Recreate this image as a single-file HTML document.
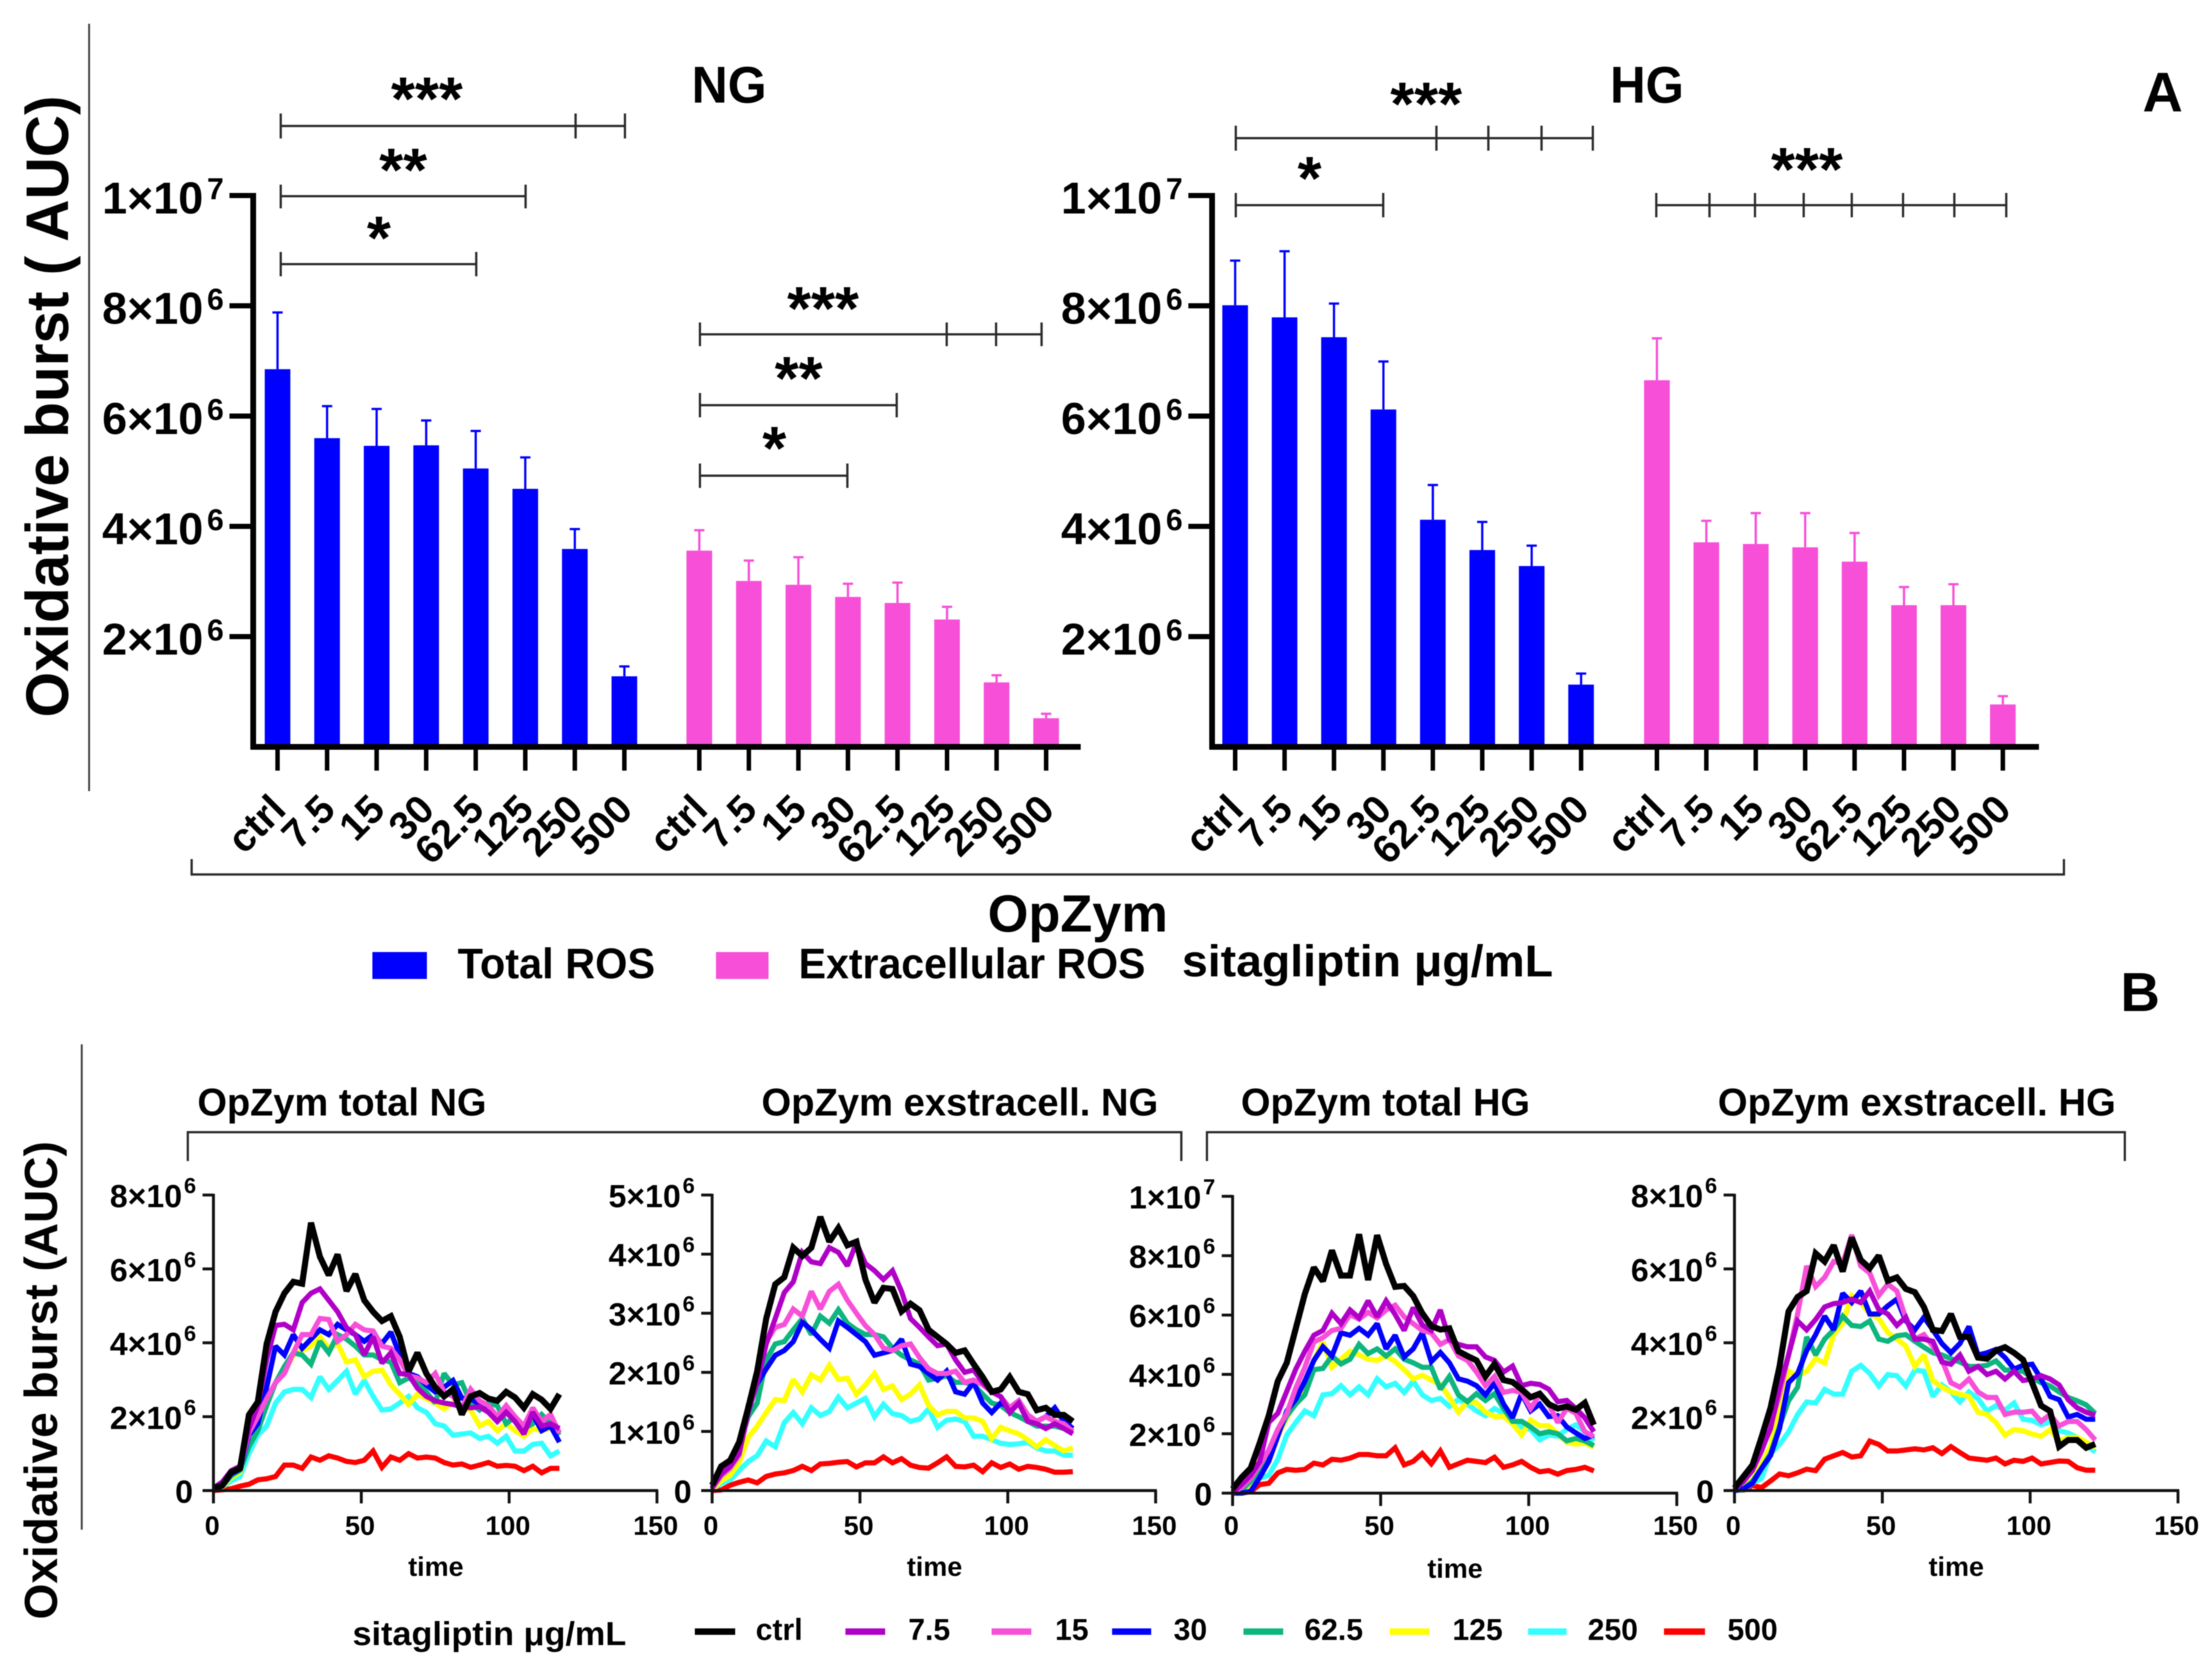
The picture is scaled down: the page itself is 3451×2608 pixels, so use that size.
<!DOCTYPE html>
<html lang="en">
<head>
<meta charset="utf-8">
<title>Oxidative burst chart</title>
<style>
html,body{margin:0;padding:0;background:#fff;}
svg{display:block;filter:blur(0.8px);}
text{font-family:"Liberation Sans","Noto Sans CJK SC",sans-serif;font-weight:bold;fill:#000;}
.br{fill:none;stroke:#2a2a2a;stroke-width:3.5;}
.star{font-size:96px;text-anchor:middle;}
</style>
</head>
<body>
<svg id="fig" xmlns="http://www.w3.org/2000/svg" width="3451" height="2608" viewBox="0 0 3451 2608">
<rect width="3451" height="2608" fill="#fff"/>

<line x1="139" y1="37" x2="139" y2="1234" stroke="#444" stroke-width="3"/>
<line x1="127.5" y1="1629" x2="127.5" y2="2386" stroke="#444" stroke-width="3"/>

<text transform="translate(106,634) rotate(-90)" text-anchor="middle" font-size="94" textLength="970" lengthAdjust="spacingAndGlyphs">Oxidative burst ( AUC)</text>
<text x="1079" y="160" font-size="81" textLength="117" lengthAdjust="spacingAndGlyphs">NG</text>
<text x="2512" y="160" font-size="81" textLength="115" lengthAdjust="spacingAndGlyphs">HG</text>
<text x="3374" y="174" font-size="87" text-anchor="middle">A</text>
<text x="3339" y="1577" font-size="85" text-anchor="middle">B</text>

<path class="br" d="M438 177V216M438 196.5H975M898 177V216M975 177V216"/>
<path class="br" d="M438 288V325M438 306H820M820 288V325"/>
<path class="br" d="M438 393V431M438 412H743M743 393V431"/>
<path class="br" d="M1092 503V540M1092 521.5H1625M1477 503V540M1554 503V540M1625 503V540"/>
<path class="br" d="M1092 613V651M1092 632H1399M1399 613V651"/>
<path class="br" d="M1092 723V761M1092 742H1322M1322 723V761"/>
<path class="br" d="M1928 196V235M1928 215.5H2485M2241 196V235M2322 196V235M2405 196V235M2485 196V235"/>
<path class="br" d="M1928 301V339M1928 320H2158M2158 301V339"/>
<path class="br" d="M2584 301V339M2584 320H3130M2667 301V339M2738 301V339M2814 301V339M2889 301V339M2969 301V339M3049 301V339M3130 301V339"/>

<text class="star" x="666" y="187">***</text>
<text class="star" x="629" y="298">**</text>
<text class="star" x="591" y="404">*</text>
<text class="star" x="1284" y="514">***</text>
<text class="star" x="1246" y="623">**</text>
<text class="star" x="1208" y="732">*</text>
<text class="star" x="2225" y="195">***</text>
<text class="star" x="2043" y="311">*</text>
<text class="star" x="2819" y="297">***</text>

<path class="br" d="M299 1340V1364H3220V1340"/>
<text x="1541" y="1453" font-size="82" textLength="281" lengthAdjust="spacingAndGlyphs">OpZym</text>
<rect x="581" y="1485" width="85" height="42" fill="#0000ff"/>
<text x="714" y="1526" font-size="67" textLength="308" lengthAdjust="spacingAndGlyphs">Total ROS</text>
<rect x="1117" y="1485" width="82" height="42" fill="#f74fd8"/>
<text x="1246" y="1526" font-size="67" textLength="541" lengthAdjust="spacingAndGlyphs">Extracellular ROS</text>
<text x="1844" y="1523" font-size="70" textLength="579" lengthAdjust="spacingAndGlyphs">sitagliptin μg/mL</text>

<text transform="translate(89,2153) rotate(-90)" text-anchor="middle" font-size="72" textLength="746" lengthAdjust="spacingAndGlyphs">Oxidative burst (AUC)</text>
<text x="308" y="1740" font-size="60" textLength="451" lengthAdjust="spacingAndGlyphs">OpZym total NG</text>
<text x="1188" y="1740" font-size="60" textLength="619" lengthAdjust="spacingAndGlyphs">OpZym exstracell. NG</text>
<text x="1936" y="1740" font-size="60" textLength="451" lengthAdjust="spacingAndGlyphs">OpZym total HG</text>
<text x="2680" y="1740" font-size="60" textLength="621" lengthAdjust="spacingAndGlyphs">OpZym exstracell. HG</text>
<path class="br" d="M293 1811V1766H1843V1811"/>
<path class="br" d="M1883 1811V1766H3315V1811"/>

<text x="550" y="2566" font-size="52" textLength="427" lengthAdjust="spacingAndGlyphs">sitagliptin μg/mL</text>
<g font-size="47" stroke-width="10">
<line x1="1084" x2="1147" y1="2545" y2="2545" stroke="#000"/>
<text x="1179" y="2558">ctrl</text>
<line x1="1319" x2="1381" y1="2545" y2="2545" stroke="#b000c8"/>
<text x="1417" y="2558">7.5</text>
<line x1="1547" x2="1609" y1="2545" y2="2545" stroke="#f74fd8"/>
<text x="1646" y="2558">15</text>
<line x1="1735" x2="1796" y1="2545" y2="2545" stroke="#0000ff"/>
<text x="1831" y="2558">30</text>
<line x1="1940" x2="2002" y1="2545" y2="2545" stroke="#0db57f"/>
<text x="2035" y="2558">62.5</text>
<line x1="2168" x2="2230" y1="2545" y2="2545" stroke="#ffff00"/>
<text x="2266" y="2558">125</text>
<line x1="2384" x2="2444" y1="2545" y2="2545" stroke="#33ffff"/>
<text x="2477" y="2558">250</text>
<line x1="2596" x2="2660" y1="2545" y2="2545" stroke="#ff0000"/>
<text x="2695" y="2558">500</text>
</g>
</svg>

<script>
// ---------- Bar chart data (values in millions) ----------
const barCategories = ['ctrl','7.5','15','30','62.5','125','250','500'];
const barTickValues = [2,4,6,8,10];
const barTickLabels = ['2×10','4×10','6×10','8×10','1×10'];
const barTickExponents = ['6','6','6','6','7'];

const ngTotalMeans = [6.85,5.60,5.46,5.47,5.05,4.68,3.59,1.28];
const ngTotalUpper = [7.88,6.18,6.13,5.92,5.73,5.25,3.95,1.46];
const ngExtraMeans = [3.56,3.01,2.94,2.72,2.61,2.31,1.17,0.52];
const ngExtraUpper = [3.93,3.38,3.44,2.96,2.98,2.54,1.30,0.60];
const hgTotalMeans = [8.01,7.79,7.43,6.12,4.12,3.57,3.28,1.13];
const hgTotalUpper = [8.82,8.99,8.04,6.99,4.75,4.08,3.65,1.33];
const hgExtraMeans = [6.65,3.71,3.68,3.62,3.36,2.57,2.57,0.77];
const hgExtraUpper = [7.41,4.10,4.24,4.24,3.88,2.90,2.95,0.92];

// ---------- Time-course data (values in millions, one sample per step) ----------
const timeTicks = [0,50,100,150];
const seriesNames = ['500','250','125','62.5','30','15','7.5','ctrl'];
const seriesColors = ['#ff0000','#33ffff','#ffff00','#0db57f','#0000ff','#f74fd8','#b000c8','#000000'];

const ngTotalTickValues = [0,2,4,6,8];
const ngTotalTickLabels = ['0','2×10','4×10','6×10','8×10'];
const ngTotalTickExponents = ['','6','6','6','6'];
const ngExtraTickValues = [0,1,2,3,4,5];
const ngExtraTickLabels = ['0','1×10','2×10','3×10','4×10','5×10'];
const ngExtraTickExponents = ['','6','6','6','6','6'];
const hgTotalTickValues = [0,2,4,6,8,10];
const hgTotalTickLabels = ['0','2×10','4×10','6×10','8×10','1×10'];
const hgTotalTickExponents = ['','6','6','6','6','7'];
const hgExtraTickValues = [0,2,4,6,8];
const hgExtraTickLabels = ['0','2×10','4×10','6×10','8×10'];
const hgExtraTickExponents = ['','6','6','6','6'];

const ntCtrl = [.07,.14,.5,.6,2.05,2.4,3.97,4.84,5.34,5.65,5.6,7.25,6.33,5.83,6.39,5.4,5.86,5.15,4.84,4.59,4.72,4.16,3.23,3.73,3.17,2.8,2.55,2.74,2.06,2.55,2.64,2.49,2.43,2.67,2.52,2.24,2.61,2.46,2.21,2.61];
const nt7 = [.07,.23,.54,.66,1.68,2.3,3.54,4.47,4.5,4.35,5.09,5.34,5.46,5.15,4.84,4.41,4.22,3.67,4.16,3.45,3.73,3.17,3.14,2.77,2.55,2.43,2.37,2.33,2.27,2.24,2.27,2.12,1.87,2.12,1.87,1.53,2.12,1.75,1.81,1.68];
const nt15 = [.07,.2,.5,.62,1.56,2.0,2.49,2.92,3.17,3.73,4.22,4.22,4.66,4.63,4.04,4.22,4.5,4.35,4.32,3.91,3.85,3.54,3.11,3.05,2.92,3.17,2.67,2.55,2.24,2.74,2.43,2.3,2,2.3,2,1.75,2.24,1.87,2.06,1.56];
const nt30 = [.05,.12,.45,.58,1.5,1.81,2.8,3.91,3.67,4.22,3.85,4.1,4.35,4.22,4.5,4.35,4.22,4.04,4.22,3.98,4.29,3.67,3.17,3.08,2.86,2.67,2.8,2.98,2.5,2.49,2.33,2.18,2,2.18,1.87,1.75,2.06,1.62,1.75,1.31];
const nt62 = [.05,.12,.4,.55,1.19,1.62,2.3,2.92,3.36,3.73,3.67,3.42,4.04,3.73,4.22,4.1,3.91,3.67,3.67,3.54,3.48,2.92,3.05,2.92,2.67,2.37,3.17,2.86,2.92,2.37,2.18,2.37,2.3,1.81,2,1.68,1.81,2.06,1.81,1.5];
const nt125 = [.05,.1,.35,.5,1.3,1.75,2.43,2.92,3.2,3.67,3.79,3.91,4.16,3.85,3.98,3.48,3.54,3.08,3.23,3.26,2.86,2.61,2.33,2.61,2.49,2.37,2.21,2.37,2.24,2.18,1.75,1.87,1.62,1.81,1.62,1.47,1.68,1.62,1.68,1.56];
const nt250 = [.03,.1,.26,.38,1,1.5,1.75,2.37,2.67,2.74,2.74,2.52,3.08,2.74,2.98,3.23,2.61,2.98,2.55,2.18,2.21,2.37,2.55,2.24,2.12,1.81,1.75,1.5,1.53,1.56,1.41,1.47,1.28,1.47,1.07,1.07,1.25,1.28,.94,1.07];
const nt500 = [0,.02,.05,.12,.17,.29,.32,.38,.69,.69,.6,.91,.82,.94,.88,.79,.76,.82,1.07,.63,.91,.82,1,.88,.91,.88,.76,.69,.72,.63,.69,.76,.66,.68,.66,.54,.66,.48,.6,.6];

const neCtrl = [.09,.41,.51,.82,1.4,2.02,2.91,3.49,3.61,4.11,3.97,4.11,4.63,4.21,4.44,4.15,4.21,3.57,3.18,3.43,3.41,3.03,3.16,3.05,2.72,2.6,2.48,2.33,2.37,2.14,1.92,1.67,1.71,1.92,1.67,1.63,1.36,1.4,1.28,1.28,1.17];
const ne7 = [.05,.28,.41,.63,1.32,1.83,2.48,2.91,3.35,3.53,4.03,3.87,3.84,4.11,4.03,3.8,4.19,3.84,3.72,3.57,3.72,3.37,2.91,2.76,2.6,2.45,2.48,2.21,2,2.04,1.83,1.67,1.59,1.32,1.48,1.17,1.13,1.05,1.13,1.05,.96];
const ne15 = [.03,.25,.38,.6,1.44,1.83,2.52,2.76,2.81,3.07,2.95,3.37,3.07,3.37,3.49,3.22,3.0,2.79,2.64,2.41,2.37,2.45,2.48,2.25,2.06,1.98,1.98,2.02,1.83,1.87,1.79,1.67,1.59,1.4,1.52,1.28,1.17,1.25,1.17,1.13,1.0];
const ne30 = [.03,.3,.42,.72,1.44,1.81,2.06,2.29,2.37,2.52,2.85,2.72,2.56,2.41,2.87,2.76,2.64,2.52,2.29,2.33,2.37,2.56,2.14,2.1,1.98,1.87,2.02,1.67,1.63,1.83,1.48,1.32,1.48,1.4,1.52,1.28,1.17,1.25,1.4,1.17,1.05];
const ne62 = [.03,.3,.45,.75,1.25,1.48,2.21,2.48,2.52,2.72,2.91,2.64,2.95,2.83,3.06,2.83,2.72,2.64,2.64,2.6,2.41,2.29,2.21,2.14,1.87,1.9,1.94,1.83,1.83,1.79,1.63,1.48,1.44,1.32,1.25,1.17,1.09,1.09,1.09,1.05,1.03];
const ne125 = [.02,.16,.26,.47,.9,1.09,1.32,1.54,1.52,1.88,1.67,1.96,1.87,2.12,1.88,1.9,1.63,1.79,1.98,1.71,1.77,1.54,1.63,1.79,1.44,1.28,1.34,1.34,1.23,1.23,1.17,.88,1.07,1.01,.96,.86,.74,.86,.76,.67,.72];
const ne250 = [.02,.12,.18,.34,.49,.59,.84,.74,1.15,1.32,1.13,1.4,1.27,1.34,1.58,1.4,1.48,1.56,1.25,1.46,1.3,1.27,1.17,1.21,1.38,1.07,1.19,1.21,1.17,.92,.92,.86,.8,.78,.79,.82,.72,.67,.67,.6,.6];
const ne500 = [0,.01,.09,.14,.18,.13,.24,.28,.3,.34,.41,.34,.45,.46,.48,.49,.4,.47,.47,.57,.47,.54,.43,.39,.38,.47,.57,.41,.4,.43,.32,.47,.39,.45,.36,.41,.39,.36,.31,.31,.32];

const htCtrl = [.14,.53,.84,1.69,2.61,3.77,4.39,5.55,6.71,7.6,7.14,8.18,7.33,7.33,8.72,7.18,8.69,7.72,6.95,6.98,6.64,6.06,5.63,5.51,5.55,4.78,4.62,4.47,3.93,4.35,3.81,3.74,3.5,3.23,3.35,3.0,2.85,2.92,2.81,3.04,2.3];
const ht7 = [.02,.29,.6,1.06,2.38,2.69,3.43,4.18,4.78,5.32,5.48,6.06,5.71,6.17,5.9,6.48,5.94,6.48,6.02,5.48,6.25,5.67,5.48,6.17,5.17,5.01,4.93,4.93,4.59,4.47,4.08,4.28,3.62,3.7,3.66,3.5,3.08,3.12,2.85,2.54,2.07];
const ht15 = [0,.2,.5,.95,1.45,2.15,2.69,3.54,4.24,5.09,5.24,5.48,5.55,6.02,5.86,6.09,5.9,6.17,6.33,5.94,5.71,5.48,5.4,5.01,5.17,4.62,4.47,4.08,3.62,3.93,3.39,3.46,3.39,2.85,3.31,3,2.38,2.85,2.69,2.07,1.9];
const ht30 = [0,0,.06,.53,1.07,1.92,2.77,3.16,3.77,4.47,4.93,4.62,5.4,5.32,5.55,5.32,5.71,4.86,5.32,4.59,4.86,5.4,4.43,4.74,4.39,3.85,3.77,3.62,3.31,3.7,3,2.54,3.35,2.77,3,2.58,2.61,2.23,2.03,1.84,1.95];
const ht62 = [0,.1,.4,.8,1.4,2.0,2.6,3,3.31,4.16,4.2,4.62,4.35,4.51,5.01,4.7,4.86,4.62,4.86,4.51,4.39,4.24,4.24,3.5,3.93,3.31,3.08,3.35,3.12,3.35,2.85,2.42,2.42,2.23,2,2.07,2,1.76,1.84,1.76,1.6];
const ht125 = [0,.05,.3,.7,1.25,1.9,2.54,3.08,3.7,4.47,5.09,4.24,4.51,4.78,4.66,4.51,4.47,4.62,4.43,4.16,3.85,3.97,3.81,3.66,3.23,2.73,3.08,3.04,2.73,2.58,2.58,2.34,1.96,2.46,2.27,2.27,2,1.72,1.65,1.69,1.55];
const ht250 = [0,.05,.2,.5,.6,1.14,1.96,2.38,2.77,2.61,3.31,3.35,3.62,3.31,3.58,3.31,3.85,3.58,3.7,3.39,3.77,3.31,3.12,3.19,2.92,3.16,3,2.77,2.61,2.85,2.69,2.38,2.23,2.15,1.8,1.96,1.92,2.15,2.3,2.07,1.75];
const ht500 = [0,0,.05,.29,.33,.68,.8,.77,.8,1.01,.95,1.14,1.11,1.18,1.3,1.3,1.26,1.26,1.53,.95,1.07,1.34,.99,1.42,.87,.99,1.11,1.07,1.03,1.21,.87,.95,1.07,.87,.72,.76,.64,.76,.8,.87,.75];

const heCtrl = [.07,.38,.69,1.44,2.24,3.36,4.85,5.24,5.4,6.42,6.2,6.64,5.93,6.85,6.24,6.02,6.36,5.68,5.77,5.46,5.37,4.97,4.35,4.32,4.78,4.16,4.16,3.6,3.57,3.79,3.88,3.73,3.54,2.92,2.3,2.15,1.19,1.37,1.37,1.16,1.26];
const he7 = [.02,.25,.55,1.1,1.68,2.8,3.67,4.59,4.35,4.63,4.97,5.06,5.09,5.18,5.09,5.4,4.9,4.78,4.47,4.69,4.1,4.1,4.04,3.48,3.42,3.67,3.23,3.36,3.14,3.23,3.02,3.23,2.98,3.02,3.11,3.02,2.86,2.46,2.24,2.12,2.04];
const he15 = [.02,.25,.55,1.05,1.75,2.61,3.67,4.78,6.08,5.52,5.77,6.2,6.14,6.92,6.08,5.89,5.28,5.59,5.4,4.66,4.1,4.22,3.91,3.54,2.92,2.8,3.02,2.67,2.52,2.52,2.06,2.12,2.12,2.15,1.87,2.06,1.75,1.87,1.87,1.65,1.37];
const he30 = [0,.05,.2,.6,.95,1.68,2.92,3.17,3.79,4.22,4.72,4.35,5.34,5.09,5.4,4.78,4.78,5.0,5.18,4.59,4.35,4.69,4.35,3.98,3.73,3.98,4.44,3.67,3.73,3.82,3.6,3.29,3.39,3.42,3.02,2.55,2.46,1.99,2.06,1.93,1.93];
const he62 = [0,.05,.25,.6,1.0,1.74,2.43,2.8,4.16,3.67,4.1,4.35,4.72,4.47,4.44,4.59,4.1,4.04,4.19,4.22,4.04,3.88,3.73,3.67,3.57,3.48,3.36,3.36,3.39,3.51,3.26,3.26,3.23,3.05,2.92,2.83,2.67,2.52,2.43,2.32,2.09];
const he125 = [0,.05,.3,.7,1.2,2.18,3.23,3.11,3.23,3.57,3.45,4.22,4.53,5.28,5.09,4.78,4.66,4.28,4.1,3.91,3.36,3.67,2.98,2.8,2.67,2.61,2.55,2.12,2.06,1.84,1.5,1.65,1.62,1.53,1.47,1.65,1.34,1.44,1.44,1.31,1.15];
const he250 = [0,.02,.2,.33,1,1.25,1.59,2.06,2.4,2.37,2.74,2.61,2.61,3.23,3.39,3.17,2.83,3.14,3.11,2.83,3.26,3.23,2.55,2.86,2.67,2.4,2.67,2.49,2.15,2.3,2.18,2.37,1.93,1.9,1.78,1.87,1.62,1.56,1.44,1.25,1.04];
const he500 = [0,.01,.14,.08,.26,.45,.4,.48,.58,.54,.85,.94,1.03,.91,.94,1.34,1.25,1.07,1.07,1.1,1.13,1.1,1.16,1,1.19,1.03,.88,.85,.82,.88,.72,.82,.79,.88,.72,.76,.8,.79,.62,.55,.55];

// ---------- Drawing ----------
const SVGNS = 'http://www.w3.org/2000/svg';
const fig = document.getElementById('fig');
function mk(tag, attrs, text) {
  const el = document.createElementNS(SVGNS, tag);
  for (const k in attrs) el.setAttribute(k, attrs[k]);
  if (text !== undefined) el.textContent = text;
  return el;
}

// Bar panels
const BAR_BASE = 1165, BAR_PX_PER_UNIT = 86.0, BAR_W = 40;
const barY = v => BAR_BASE - v * BAR_PX_PER_UNIT;

const barPanels = [
  {name:'ng', axisX:395, endX:1686, groups:[
    {name:'ng-total', start:433, step:77.3, color:'#0000ff', means:ngTotalMeans, upper:ngTotalUpper},
    {name:'ng-extracellular', start:1091, step:77.3, color:'#f74fd8', means:ngExtraMeans, upper:ngExtraUpper}]},
  {name:'hg', axisX:1891, endX:3181, groups:[
    {name:'hg-total', start:1927, step:77.1, color:'#0000ff', means:hgTotalMeans, upper:hgTotalUpper},
    {name:'hg-extracellular', start:2585, step:77.1, color:'#f74fd8', means:hgExtraMeans, upper:hgExtraUpper}]}
];

barPanels.forEach(function (p) {
  const g = mk('g', {});
  
  
  fig.appendChild(g);

  p.groups.forEach(function (grp) {
    barCategories.forEach(function (cat, i) {
      const cx = grp.start + i * grp.step;
      const top = barY(grp.means[i]);
      const bar = mk('rect', {x: cx - BAR_W / 2, y: top, width: BAR_W, height: BAR_BASE - top, fill: grp.color});
      
      
      g.appendChild(bar);

      const upY = barY(grp.upper[i]);
      const err = mk('path', {d: 'M' + cx + ' ' + top + 'V' + upY + 'M' + (cx - 8) + ' ' + upY + 'H' + (cx + 8), fill: 'none', stroke: grp.color, 'stroke-width': 3.5});
      
      
      g.appendChild(err);

      const tick = mk('line', {x1: cx, x2: cx, y1: BAR_BASE, y2: BAR_BASE + 37, stroke: '#000', 'stroke-width': 7});
      
      
      g.appendChild(tick);

      const lx = cx + 16, ly = 1266;
      const lab = mk('text', {transform: 'translate(' + lx + ',' + ly + ') rotate(-45)', 'text-anchor': 'end', 'font-size': 62}, cat);
      
      
      g.appendChild(lab);
    });
  });

  const yAxis = mk('line', {x1: p.axisX, x2: p.axisX, y1: barY(10) - 4, y2: BAR_BASE + 4, stroke: '#000', 'stroke-width': 9});
  
  
  g.appendChild(yAxis);

  const xAxis = mk('line', {x1: p.axisX - 4, x2: p.endX, y1: BAR_BASE, y2: BAR_BASE, stroke: '#000', 'stroke-width': 9});
  
  
  g.appendChild(xAxis);

  barTickValues.forEach(function (v, i) {
    const y = barY(v);
    const t = mk('line', {x1: p.axisX - 37, x2: p.axisX, y1: y, y2: y, stroke: '#000', 'stroke-width': 8});
    
    
    g.appendChild(t);

    const l = mk('text', {x: p.axisX - 78, y: y + 28, 'text-anchor': 'end', 'font-size': 70}, barTickLabels[i]);
    
    
    g.appendChild(l);

    const s = mk('text', {x: p.axisX - 72, y: y + 6, 'font-size': 47}, barTickExponents[i]);
    
    
    g.appendChild(s);
  });
});

// Line panels
const linePanels = [
  {name:'ng-total', x0:333, pxPerTime:4.613, y0:2325, yTop:1864, yMax:8, dt:3,
   tickValues:ngTotalTickValues, tickLabels:ngTotalTickLabels, tickExps:ngTotalTickExponents, timeX:680, timeY:2458,
   series:[nt500,nt250,nt125,nt62,nt30,nt15,nt7,ntCtrl]},
  {name:'ng-extracellular', x0:1111, pxPerTime:4.613, y0:2325, yTop:1864, yMax:5, dt:3.05,
   tickValues:ngExtraTickValues, tickLabels:ngExtraTickLabels, tickExps:ngExtraTickExponents, timeX:1458, timeY:2458,
   series:[ne500,ne250,ne125,ne62,ne30,ne15,ne7,neCtrl]},
  {name:'hg-total', x0:1923, pxPerTime:4.62, y0:2329, yTop:1866, yMax:10, dt:3.05,
   tickValues:hgTotalTickValues, tickLabels:hgTotalTickLabels, tickExps:hgTotalTickExponents, timeX:2270, timeY:2461,
   series:[ht500,ht250,ht125,ht62,ht30,ht15,ht7,htCtrl]},
  {name:'hg-extracellular', x0:2706, pxPerTime:4.613, y0:2325, yTop:1864, yMax:8, dt:3.05,
   tickValues:hgExtraTickValues, tickLabels:hgExtraTickLabels, tickExps:hgExtraTickExponents, timeX:3052, timeY:2458,
   series:[he500,he250,he125,he62,he30,he15,he7,heCtrl]}
];

linePanels.forEach(function (p) {
  const xs = t => p.x0 + t * p.pxPerTime;
  const ys = v => p.y0 - v * (p.y0 - p.yTop) / p.yMax;
  const g = mk('g', {});
  
  
  fig.appendChild(g);

  p.series.forEach(function (vals, si) {
    const d = vals.map((v, i) => (i ? 'L' : 'M') + xs(i * p.dt).toFixed(1) + ' ' + ys(v).toFixed(1)).join('');
    const path = mk('path', {d: d, fill: 'none', stroke: seriesColors[si], 'stroke-width': si === 7 ? 9.5 : 8, 'stroke-linejoin': 'miter', 'stroke-miterlimit': 2});
    
    
    g.appendChild(path);
  });

  const yAxis = mk('line', {x1: p.x0, x2: p.x0, y1: p.yTop - 2, y2: p.y0 + 2, stroke: '#111', 'stroke-width': 4.5});
  
  
  g.appendChild(yAxis);

  const xAxis = mk('line', {x1: p.x0 - 2, x2: xs(150) + 2, y1: p.y0, y2: p.y0, stroke: '#111', 'stroke-width': 4.5});
  
  
  g.appendChild(xAxis);

  timeTicks.forEach(function (t) {
    const tick = mk('line', {x1: xs(t), x2: xs(t), y1: p.y0, y2: p.y0 + 20, stroke: '#111', 'stroke-width': 4.5});
    
    
    g.appendChild(tick);

    const lab = mk('text', {x: xs(t) - 2, y: 2394, 'text-anchor': 'middle', 'font-size': 42}, String(t));
    
    
    g.appendChild(lab);
  });

  p.tickValues.forEach(function (v, i) {
    const y = ys(v);
    const tick = mk('line', {x1: p.x0 - 17, x2: p.x0, y1: y, y2: y, stroke: '#111', 'stroke-width': 4.5});
    
    
    g.appendChild(tick);

    const isZero = p.tickExps[i] === '';
    const lab = mk('text', {x: p.x0 - (isZero ? 32 : 49), y: y + 19, 'text-anchor': 'end', 'font-size': 50}, p.tickLabels[i]);
    
    
    g.appendChild(lab);

    const sup = mk('text', {x: p.x0 - 46, y: y - 3, 'font-size': 34}, p.tickExps[i]);
    
    
    g.appendChild(sup);
  });

  const timeLab = mk('text', {x: p.timeX, y: p.timeY, 'text-anchor': 'middle', 'font-size': 42}, 'time');
  
  
  g.appendChild(timeLab);
});
</script>
</body>
</html>
